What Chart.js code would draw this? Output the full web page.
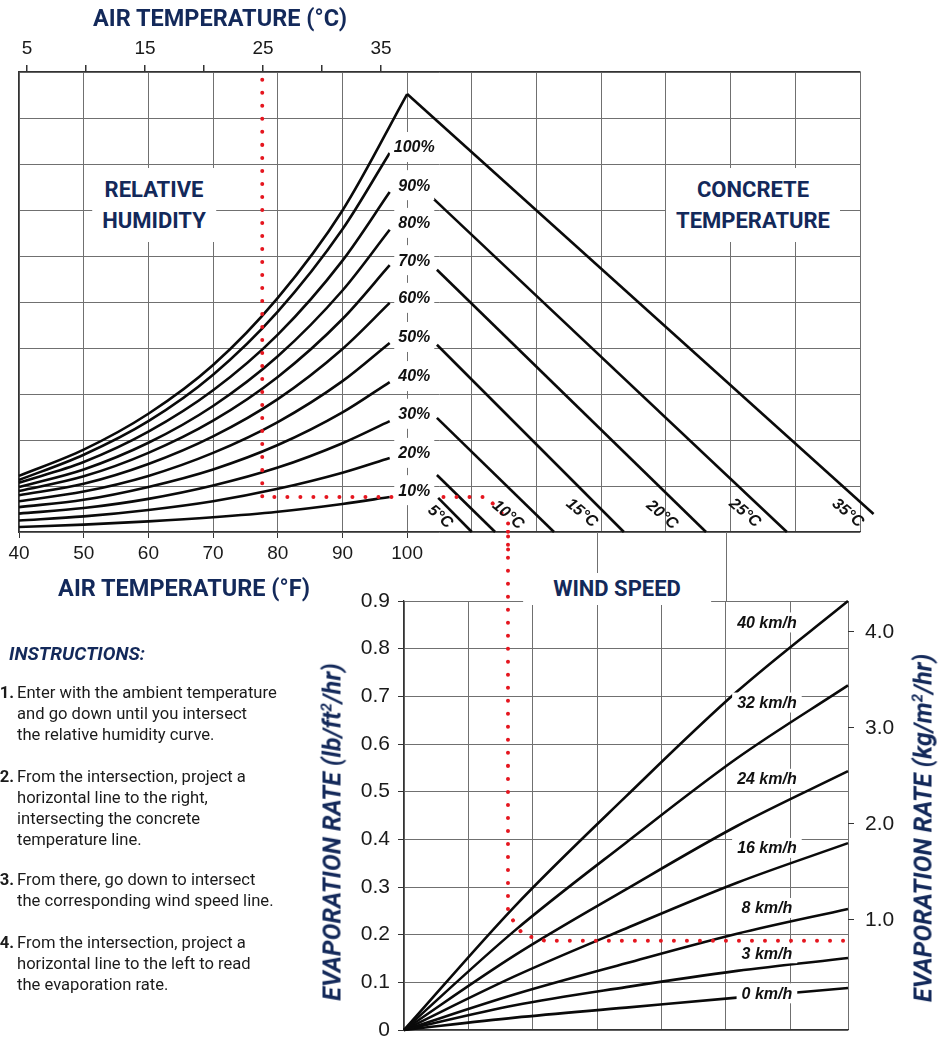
<!DOCTYPE html>
<html lang="en">
<head>
<meta charset="utf-8">
<title>Evaporation rate nomograph</title>
<script src="https://cdn.jsdelivr.net/npm/chart.js@4.4.1/dist/chart.umd.min.js"></script>
<style>
  html, body { margin:0; padding:0; background:#fff; }
  body { width:940px; height:1045px; position:relative; overflow:hidden; font-family: Roboto, "Liberation Sans", Arial, sans-serif; }
  canvas { position:absolute; left:0; }
  #upper { top:0; }
  #lower { top:530px; }
  .navy { position:absolute; color:#13295a; font-weight:700; white-space:nowrap; }
  .title { font-size:23.5px; line-height:23px; transform:translateX(-50%); }
  .boxed { background:#fff; text-align:center; font-size:22px; line-height:31px; padding:6px 10px; transform:translateX(-50%); }
  .wind { background:#fff; font-size:22px; line-height:22px; padding:5px 30px; transform:translateX(-50%); }
  .vtitle { font-size:25px; font-style:italic; line-height:25px; transform:translate(-50%,-50%) rotate(-90deg); }
  .vtitle sup { font-size:15px; vertical-align:9px; line-height:0; }
  #instr-head { left:9px; top:644px; font-size:19px; line-height:19px; font-style:italic; }
  .step { position:absolute; left:17px; font-size:16.6px; line-height:21px; color:#1b1b1b; white-space:nowrap; }
  .step b { position:absolute; left:-21px; width:18px; text-align:right; }
</style>
</head>
<body>
<canvas id="upper" width="940" height="560"></canvas>
<canvas id="lower" width="940" height="515"></canvas>

<div class="navy title" style="left:220px; top:7px;">AIR TEMPERATURE (°C)</div>
<div class="navy title" style="left:184px; top:577px;">AIR TEMPERATURE (°F)</div>
<div class="navy boxed" style="left:154px; top:168px;">RELATIVE<br>HUMIDITY</div>
<div class="navy boxed" style="left:753px; top:168px;">CONCRETE<br>TEMPERATURE</div>
<div class="navy wind" style="left:617px; top:573px;">WIND SPEED</div>
<div class="navy vtitle" style="left:332px; top:832px;">EVAPORATION RATE (lb/ft<sup>2</sup>/hr)</div>
<div class="navy vtitle" style="left:923px; top:828px;">EVAPORATION RATE (kg/m<sup>2</sup>/hr)</div>

<div class="navy" id="instr-head">INSTRUCTIONS:</div>
<div class="step" style="top:682px;"><b>1.</b>Enter with the ambient temperature<br>and go down until you intersect<br>the relative humidity curve.</div>
<div class="step" style="top:766px;"><b>2.</b>From the intersection, project a<br>horizontal line to the right,<br>intersecting the concrete<br>temperature line.</div>
<div class="step" style="top:869px;"><b>3.</b>From there, go down to intersect<br>the corresponding wind speed line.</div>
<div class="step" style="top:932px;"><b>4.</b>From the intersection, project a<br>horizontal line to the left to read<br>the evaporation rate.</div>

<script>
// ---------------- Upper panel data ----------------
const airTempF_ticks = [40, 50, 60, 70, 80, 90, 100];
const upperGridF = [40, 50, 60, 70, 80, 90, 100, 110, 120, 130, 140, 150, 160, 170];
const upperGridLevel = [0, 1, 2, 3, 4, 5, 6, 7, 8, 9, 10];
const airTempC_ticks = [5, 10, 15, 20, 25, 30, 35];
const airTempC_labels = [5, 15, 25, 35];

const rhTempF = [40, 50, 60, 70, 80, 90, 97.3];
const rh100 = [1.13, 1.68, 2.41, 3.42, 4.79, 6.58, 8.24];
const rh90  = [1.07, 1.52, 2.18, 3.08, 4.29, 5.90, 7.39];
const rh80  = [0.98, 1.36, 1.94, 2.74, 3.82, 5.25, 6.57];
const rh70  = [0.89, 1.21, 1.72, 2.42, 3.37, 4.63, 5.80];
const rh60  = [0.80, 1.05, 1.48, 2.08, 2.89, 3.98, 4.98];
const rh50  = [0.67, 0.88, 1.22, 1.72, 2.39, 3.28, 4.11];
const rh40  = [0.54, 0.70, 0.98, 1.36, 1.89, 2.60, 3.26];
const rh30  = [0.40, 0.52, 0.72, 1.01, 1.40, 1.93, 2.41];
const rh20  = [0.25, 0.34, 0.48, 0.67, 0.94, 1.29, 1.61];
const rh10  = [0.11, 0.16, 0.23, 0.32, 0.44, 0.61, 0.76];
const rhLabels = ['100%', '90%', '80%', '70%', '60%', '50%', '40%', '30%', '20%', '10%'];
const rhLabelLevel = [8.37, 7.54, 6.72, 5.91, 5.09, 4.24, 3.39, 2.57, 1.72, 0.91];
const rhLabelF = 101.1;

const satTempF = [40, 50, 60, 70, 80, 90, 100];
const satCurve = [1.22, 1.79, 2.57, 3.63, 5.09, 6.99, 9.52];

const concreteLabels = ['35°C', '25°C', '20°C', '15°C', '10°C', '', '5°C'];
const concreteStartF = [100, 103.8, 104.6, 104.6, 104.6, 104.6, 104.8];
const concreteStartLevel = [9.52, 7.28, 5.70, 4.07, 2.48, 1.24, 0.74];
const concreteEndF = [172.1, 158.7, 146.2, 133.5, 122.7, 113.6, 110.0];
const concreteEndLevel = [0.39, 0, 0, 0, 0, 0, 0];
const concreteLabelF = [168.1, 152.2, 139.4, 127.0, 115.6, null, 105.1];
const concreteLabelLevel = [0.41, 0.41, 0.37, 0.41, 0.37, null, 0.33];

const exampleUpperF = [77.6, 77.6, 112.3, 115.6, 115.6];
const exampleUpperLevel = [9.83, 0.76, 0.76, 0.26, -0.7];

// ---------------- Lower panel data ----------------
const windPos = [0, 1.725, 3.45, 5.175, 6.9];
const windGrid = [0, 1, 2, 3, 4, 5, 6, 6.9];
const windGridRaised = [3, 5];
const windLabels = ['40 km/h', '32 km/h', '24 km/h', '16 km/h', '8 km/h', '3 km/h', '0 km/h'];
const wind40 = [0, 0.260, 0.490, 0.710, 0.900];
const wind32 = [0, 0.209, 0.393, 0.570, 0.723];
const wind24 = [0, 0.157, 0.295, 0.428, 0.543];
const wind16 = [0, 0.113, 0.213, 0.309, 0.392];
const wind8  = [0, 0.075, 0.140, 0.202, 0.254];
const wind3  = [0, 0.052, 0.090, 0.124, 0.151];
const wind0  = [0, 0.026, 0.047, 0.068, 0.088];
const windLabelPos = 5.64;
const windLabelRate = [0.855, 0.687, 0.527, 0.382, 0.256, 0.161, 0.077];
const evapLbTicks = [0, 0.1, 0.2, 0.3, 0.4, 0.5, 0.6, 0.7, 0.8, 0.9];
const evapKgTicks = [1.0, 2.0, 3.0, 4.0];
const exampleLowerPos = [1.616, 1.616, 1.85, 2.2, 6.9];
const exampleLowerRate = [1.1, 0.245, 0.2, 0.187, 0.187];

// ---------------- helpers ----------------
Chart.defaults.font.family = 'Arial, "Liberation Sans", sans-serif';
Chart.defaults.color = '#1a1a1a';
const GRID = '#707070';
const AXIS = '#333';
const pts = (xs, ys) => xs.map((x, i) => ({ x: x, y: ys[i] }));
const curve = (xs, ys) => ({ data: pts(xs, ys), borderColor: '#0a0a0a', borderWidth: 2.6, pointRadius: 0,
  cubicInterpolationMode: 'monotone', fill: false, clip: false });
const straight = (xs, ys) => ({ data: pts(xs, ys), borderColor: '#0a0a0a', borderWidth: 2.6, pointRadius: 0,
  tension: 0, fill: false, clip: false });
const redPath = (xs, ys) => ({ data: pts(xs, ys), borderColor: '#e5161f', borderWidth: 4, pointRadius: 0,
  tension: 0, fill: false, clip: false, borderDash: [0.01, 13], borderCapStyle: 'round' });
const setTicks = arr => (s => { s.ticks = arr.map(v => ({ value: v })); });
const labelFont = 'bold italic 16px Arial, "Liberation Sans", sans-serif';

// ---------------- upper chart ----------------
const upperLabels = {
  id: 'upperLabels',
  afterDatasetsDraw(chart) {
    const ctx = chart.ctx, x = chart.scales.x, y = chart.scales.y;
    ctx.save();
    ctx.font = labelFont;
    ctx.textAlign = 'center';
    ctx.textBaseline = 'middle';
    rhLabels.forEach((t, i) => {
      const px = x.getPixelForValue(rhLabelF), py = y.getPixelForValue(rhLabelLevel[i]);
      const w = ctx.measureText(t).width;
      ctx.fillStyle = '#fff';
      ctx.fillRect(px - w / 2 - 4, py - 15, w + 8, 30);
      ctx.fillStyle = '#111';
      ctx.fillText(t, px, py + 1);
    });
    concreteLabels.forEach((t, i) => {
      if (!t) return;
      const px = x.getPixelForValue(concreteLabelF[i]), py = y.getPixelForValue(concreteLabelLevel[i]);
      ctx.save();
      ctx.translate(px, py);
      ctx.rotate(40 * Math.PI / 180);
      ctx.fillStyle = '#111';
      ctx.fillText(t, 0, 0);
      ctx.restore();
    });
    ctx.restore();
  }
};

const upperSets = [
  redPath(exampleUpperF, exampleUpperLevel),
  curve(satTempF, satCurve),
  curve(rhTempF, rh100), curve(rhTempF, rh90), curve(rhTempF, rh80), curve(rhTempF, rh70),
  curve(rhTempF, rh60), curve(rhTempF, rh50), curve(rhTempF, rh40), curve(rhTempF, rh30),
  curve(rhTempF, rh20), curve(rhTempF, rh10)
];
concreteLabels.forEach((t, i) => {
  upperSets.push(straight([concreteStartF[i], concreteEndF[i]], [concreteStartLevel[i], concreteEndLevel[i]]));
});

new Chart(document.getElementById('upper'), {
  type: 'line',
  data: { datasets: upperSets },
  options: {
    responsive: false, animation: false, events: [], devicePixelRatio: 1,
    layout: { padding: { left: 19, right: 80, top: 0, bottom: 0 } },
    plugins: { legend: { display: false }, tooltip: { enabled: false } },
    scales: {
      x: {
        type: 'linear', position: 'bottom', min: 40, max: 170,
        afterBuildTicks: setTicks(upperGridF),
        ticks: { autoSkip: false, maxRotation: 0, padding: 4, font: { size: 19 }, color: '#1a1a1a',
          callback: v => airTempF_ticks.includes(v) ? String(v) : '' },
        grid: { color: GRID, lineWidth: 1, tickLength: 6,
          tickColor: c => (c.tick && airTempF_ticks.includes(c.tick.value)) ? AXIS : 'rgba(0,0,0,0)' },
        border: { color: AXIS, width: 1.3 },
        afterFit: s => { s.height = 28; }
      },
      xc: {
        type: 'linear', position: 'top', min: 4.32, max: 75.6,
        afterBuildTicks: setTicks(airTempC_ticks),
        ticks: { autoSkip: false, maxRotation: 0, padding: 5, font: { size: 19 }, color: '#1a1a1a',
          callback: v => airTempC_labels.includes(v) ? String(v) : '' },
        grid: { drawOnChartArea: false, tickLength: 7, tickColor: AXIS, lineWidth: 1.5 },
        border: { color: AXIS, width: 1.3 },
        afterFit: s => { s.height = 72; }
      },
      y: {
        type: 'linear', position: 'left', min: 0, max: 10,
        afterBuildTicks: setTicks(upperGridLevel),
        ticks: { display: false },
        grid: { color: GRID, lineWidth: 1, drawTicks: false },
        border: { color: AXIS, width: 1.3 },
        afterFit: s => { s.width = 0; s.paddingTop = 0; s.paddingBottom = 0; }
      }
    }
  },
  plugins: [upperLabels]
});

// ---------------- lower chart ----------------
const lowerExtras = {
  id: 'lowerExtras',
  beforeDatasetsDraw(chart) {
    // two grid lines continue upward to meet the upper panel
    const ctx = chart.ctx, x = chart.scales.x, top = chart.chartArea.top;
    ctx.save();
    ctx.strokeStyle = GRID;
    ctx.lineWidth = 1;
    windGridRaised.forEach(v => {
      const px = Math.round(x.getPixelForValue(v)) + 0.5;
      ctx.beginPath();
      ctx.moveTo(px, 2);
      ctx.lineTo(px, top);
      ctx.stroke();
    });
    ctx.restore();
  },
  afterDatasetsDraw(chart) {
    const ctx = chart.ctx, x = chart.scales.x, y = chart.scales.y;
    ctx.save();
    ctx.font = labelFont;
    ctx.textAlign = 'center';
    ctx.textBaseline = 'middle';
    windLabels.forEach((t, i) => {
      const px = x.getPixelForValue(windLabelPos), py = y.getPixelForValue(windLabelRate[i]);
      const w = ctx.measureText(t).width;
      ctx.fillStyle = '#fff';
      ctx.fillRect(px - w / 2 - 5, py - 10, w + 10, 20);
      ctx.fillStyle = '#111';
      ctx.fillText(t, px, py + 1);
    });
    ctx.restore();
  }
};

new Chart(document.getElementById('lower'), {
  type: 'line',
  data: { datasets: [
    redPath(exampleLowerPos, exampleLowerRate),
    curve(windPos, wind40), curve(windPos, wind32), curve(windPos, wind24), curve(windPos, wind16),
    curve(windPos, wind8), curve(windPos, wind3), curve(windPos, wind0)
  ] },
  options: {
    responsive: false, animation: false, events: [], devicePixelRatio: 1,
    layout: { padding: { left: 344, right: 32, top: 71, bottom: 15 } },
    plugins: { legend: { display: false }, tooltip: { enabled: false } },
    scales: {
      x: {
        type: 'linear', min: 0, max: 6.9,
        afterBuildTicks: setTicks(windGrid),
        ticks: { display: false },
        grid: { color: GRID, lineWidth: 1, drawTicks: false },
        border: { color: AXIS, width: 1.3 },
        afterFit: s => { s.height = 0; s.paddingLeft = 0; s.paddingRight = 0; }
      },
      y: {
        type: 'linear', position: 'left', min: 0, max: 0.9,
        afterBuildTicks: setTicks(evapLbTicks),
        ticks: { padding: 8, font: { size: 21 }, color: '#1a1a1a',
          callback: v => v === 0 ? '0' : v.toFixed(1) },
        grid: { color: GRID, lineWidth: 1, tickLength: 6, tickColor: AXIS },
        border: { color: AXIS, width: 1.3 },
        afterFit: s => { s.width = 60; s.paddingTop = 0; s.paddingBottom = 0; }
      },
      yk: {
        type: 'linear', position: 'right', min: -0.146, max: 4.32,
        afterBuildTicks: setTicks(evapKgTicks),
        ticks: { padding: 11, font: { size: 21 }, color: '#1a1a1a', callback: v => v.toFixed(1) },
        grid: { drawOnChartArea: false, tickLength: 6, tickColor: AXIS },
        border: { display: false },
        afterFit: s => { s.width = 60; s.paddingTop = 0; s.paddingBottom = 0; }
      }
    }
  },
  plugins: [lowerExtras]
});
</script>
</body>
</html>
